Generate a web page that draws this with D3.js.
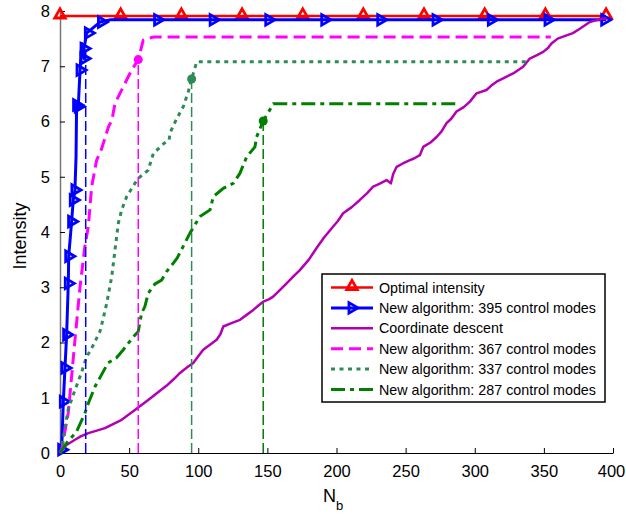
<!DOCTYPE html>
<html>
<head>
<meta charset="utf-8">
<script src="https://cdn.jsdelivr.net/npm/d3@7"></script>
<style>
  body { margin: 0; background: #fff; }
  svg text { font-family: "Liberation Sans", Arial, sans-serif; fill: #000; }
</style>
</head>
<body>
<svg id="chart" width="626" height="517"></svg>
<script>

// ---- data ----
const xDomain = [0, 400];
const yDomain = [0, 8];
const xTicks = [0, 50, 100, 150, 200, 250, 300, 350, 400];
const yTicks = [0, 1, 2, 3, 4, 5, 6, 7, 8];

// optimal intensity (flat), markers every ~44
const optimalN = [0, 395];
const optimalI = [7.91, 7.91];
const optimalMarkN = [0, 43.9, 87.8, 131.7, 175.6, 219.4, 263.3, 307.2, 351.1, 395];

// new algorithm, 395 modes
const blueCurve = [[0,0],[1.2,0.06],[2.4,0.93],[3.6,1.54],[4.8,2.14],[6,3.07],[6.3,3.56],[8.4,4.19],
  [9.6,4.58],[10.8,4.76],[11.6,5.36],[12,6.3],[13.2,6.27],[14.5,6.93],[15.7,7.41],[17.4,7.14],
  [17.4,7.32],[19.3,7.6],[28.9,7.8],[36,7.84],[395,7.84]];
const blueMarks = [[1.2,0.06],[2.4,0.93],[3.6,1.54],[4.8,2.14],[6,3.07],[6.3,3.56],[8.4,4.19],
  [9.6,4.58],[10.8,4.76],[12,6.3],[13.2,6.27],[14.5,6.93],[17.4,7.14],[17.4,7.32],[20.5,7.6],
  [30,7.8],[70.6,7.84],[110.8,7.84],[151,7.84],[191.5,7.84],[232,7.84],[272,7.84],[312,7.84],
  [353,7.84],[394,7.84]];

// coordinate descent
const cdCurve = [[0,0],[1.2,0.06],[5,0.15],[10.8,0.24],[15,0.3],[20.5,0.36],[26,0.4],[32.5,0.45],
  [38,0.52],[44.6,0.6],[50,0.7],[54.2,0.78],[58,0.85],[63.8,0.96],[70,1.08],[77.2,1.22],[82,1.33],
  [86.8,1.45],[92,1.55],[96.4,1.63],[100,1.75],[103.6,1.87],[108,1.95],[113.3,2.05],[116,2.15],
  [118.1,2.29],[124,2.35],[130.2,2.41],[135,2.5],[139.8,2.59],[144,2.68],[147,2.74],[151,2.78],
  [154.2,2.83],[159,2.95],[163.9,3.07],[169,3.2],[173.5,3.31],[180,3.5],[185.6,3.71],[191,3.9],
  [197.6,4.1],[201,4.2],[204.8,4.34],[211,4.45],[216.9,4.58],[222,4.7],[226.5,4.82],[231,4.87],
  [236.2,4.94],[239.3,4.88],[241,5.05],[243.5,5.18],[248,5.24],[253.1,5.3],[256,5.33],[260.3,5.39],
  [262.7,5.54],[268,5.62],[272.4,5.72],[276,5.82],[279.6,5.97],[283,6.05],[286.8,6.18],[292,6.26],
  [296.5,6.36],[301.3,6.51],[308.5,6.57],[312,6.65],[315.8,6.72],[322,6.8],[327.8,6.87],[335,6.99],
  [339.8,7.14],[345,7.2],[349.5,7.26],[353,7.33],[355.5,7.41],[360,7.5],[366.4,7.56],[371,7.6],
  [376,7.68],[383.2,7.8],[389,7.84],[395.3,7.87]];

// new algorithm, 367 modes
const magentaCurve = [[0,0],[1.2,0.06],[6,0.73],[10.8,2.04],[14.5,3.01],[18,3.74],[20.5,4.1],
  [22.9,4.82],[26.5,5.3],[30,5.5],[35,5.9],[37.6,6.03],[39.8,6.33],[45.8,6.63],[51.8,6.93],
  [56.6,7.12],[60.2,7.47],[67.5,7.53],[355,7.53]];
const magentaDot = [56.6, 7.12];

// new algorithm, 337 modes
const seaCurve = [[0,0],[1.2,0.06],[3.6,0.45],[6,0.8],[10,1.08],[15.5,1.45],[19.3,1.75],[22,1.85],
  [28.9,2.2],[31,2.41],[33.8,2.71],[37.4,3.19],[39.8,3.68],[42.2,4.16],[44.6,4.4],[48.2,4.64],
  [54.2,4.88],[56.6,4.97],[63.8,5.12],[67.5,5.42],[75,5.6],[79,5.67],[79.5,5.79],[84,6.03],
  [89.2,6.27],[92.8,6.54],[95.2,6.77],[98.9,7.08],[337.4,7.08]];
const seaDot = [95.2, 6.77];

// new algorithm, 287 modes
const greenCurve = [[0,0],[4.8,0.18],[12,0.39],[18,0.72],[20.5,0.9],[25.3,1.2],[34.7,1.63],
  [40.7,1.72],[45.8,1.87],[53,2.1],[56.6,2.2],[59,2.53],[61.4,2.65],[63.8,2.89],[68.7,3.06],
  [73.5,3.13],[77,3.28],[82.4,3.45],[84.8,3.53],[94,3.98],[101.2,4.28],[108.5,4.4],[110.9,4.64],
  [118.1,4.79],[125.3,4.88],[130.1,5.06],[135,5.36],[141,5.54],[142.2,5.72],[147,6.01],[154.3,6.32],
  [286.8,6.32]];
const greenDot = [147, 6.01];

// vertical marker for the 395-mode run: [N, top intensity]
const blueVLine = [18.6, 7.3];

const legendLabels = [
  "Optimal intensity",
  "New algorithm: 395 control modes",
  "Coordinate descent",
  "New algorithm: 367 control modes",
  "New algorithm: 337 control modes",
  "New algorithm: 287 control modes"
];

// ---- styles ----
const C = {
  red: "#ff0000", blue: "#0000ff", purple: "#b300b3",
  magenta: "#ff00ff", sea: "#2e8b57", green: "#008000"
};
const series = [
  { color: C.red, width: 2.5, dash: null, mark: "up" },
  { color: C.blue, width: 3, dash: null, mark: "right" },
  { color: C.purple, width: 2.5, dash: null, mark: null },
  { color: C.magenta, width: 3, dash: "12,6", mark: null },
  { color: C.sea, width: 3, dash: "4,4.5", mark: null },
  { color: C.green, width: 3, dash: "14,5,4,5", mark: null }
];

const svg = d3.select("#chart");
const x = d3.scaleLinear().domain(xDomain).range([60, 613]);
const y = d3.scaleLinear().domain(yDomain).range([453, 11]);
const line = d3.line().x(d => x(d[0])).y(d => y(d[1]));

// axes
const xAxis = svg.append("g")
  .attr("transform", "translate(0,453)")
  .call(d3.axisBottom(x).tickValues(xTicks).tickSizeInner(-5).tickSizeOuter(0).tickPadding(12));
xAxis.select(".domain").attr("stroke", "#000").attr("stroke-width", 1.2);
xAxis.selectAll("text").attr("font-size", 16.5).attr("font-family", "Liberation Sans, Arial, sans-serif");
xAxis.selectAll("text").filter(d => d === 400).attr("dx", -2);

const yAxis = svg.append("g")
  .attr("transform", "translate(60,0)")
  .call(d3.axisLeft(y).tickValues(yTicks).tickSizeInner(-5).tickSizeOuter(0).tickPadding(10));
yAxis.select(".domain").attr("stroke", "#777").attr("stroke-width", 1.5);
yAxis.selectAll("text").attr("font-size", 16.5).attr("font-family", "Liberation Sans, Arial, sans-serif");

svg.append("text")
  .attr("transform", "translate(26,236) rotate(-90)")
  .attr("text-anchor", "middle")
  .attr("font-size", 18)
  .text("Intensity");

const xl = svg.append("text")
  .attr("x", 323).attr("y", 502)
  .attr("font-size", 18);
xl.append("tspan").text("N");
xl.append("tspan").attr("font-size", 13).attr("dy", 8).text("b");

const plot = svg.append("g");

const tri = d3.symbol().type(d3.symbolTriangle).size(48);
const markStyle = (sel, color) => sel
  .attr("fill", "none").attr("stroke", color).attr("stroke-width", 2.8).attr("stroke-linejoin", "miter");

// optimal intensity
const optimal = optimalN.map((n, i) => [n, optimalI[i]]);
plot.append("path").attr("d", line(optimal))
  .attr("fill", "none").attr("stroke", C.red).attr("stroke-width", 2.5);
plot.selectAll(null).data(optimalMarkN).join("path")
  .attr("d", tri())
  .attr("transform", d => `translate(${x(d)},${y(optimalI[0]) - 1})`)
  .call(markStyle, C.red);

// 395 modes
plot.append("path").attr("d", line(blueCurve))
  .attr("fill", "none").attr("stroke", C.blue).attr("stroke-width", 3).attr("stroke-linejoin", "round");
plot.selectAll(null).data(blueMarks).join("path")
  .attr("d", tri())
  .attr("transform", d => `translate(${x(d[0])},${y(d[1])}) rotate(90)`)
  .call(markStyle, C.blue);

// coordinate descent
plot.append("path").attr("d", line(cdCurve))
  .attr("fill", "none").attr("stroke", C.purple).attr("stroke-width", 2.5).attr("stroke-linejoin", "round");

// truncated runs
[[magentaCurve, series[3]], [seaCurve, series[4]], [greenCurve, series[5]]].forEach(([pts, s]) => {
  plot.append("path").attr("d", line(pts))
    .attr("fill", "none").attr("stroke", s.color).attr("stroke-width", s.width)
    .attr("stroke-dasharray", s.dash);
});

// vertical dashed guides and dots
const guides = [
  { p: blueVLine, color: C.blue, dot: false },
  { p: magentaDot, color: C.magenta, dot: true },
  { p: seaDot, color: C.sea, dot: true },
  { p: greenDot, color: C.green, dot: true }
];
guides.forEach(g => {
  plot.append("line")
    .attr("x1", x(g.p[0])).attr("x2", x(g.p[0]))
    .attr("y1", y(0)).attr("y2", y(g.p[1]))
    .attr("stroke", g.color).attr("stroke-width", 1.5)
    .attr("stroke-dasharray", "10,4");
  if (g.dot) plot.append("circle")
    .attr("cx", x(g.p[0])).attr("cy", y(g.p[1])).attr("r", 4.5)
    .attr("fill", g.color);
});

// legend
const lg = svg.append("g").attr("transform", "translate(322,274)");
lg.append("rect").attr("width", 283).attr("height", 128)
  .attr("fill", "#fff").attr("stroke", "#000").attr("stroke-width", 1.5);
const rows = lg.selectAll("g.row").data(series).join("g")
  .attr("class", "row")
  .attr("transform", (d, i) => `translate(0,${13.5 + i * 20.4})`);
rows.append("line")
  .attr("x1", 9).attr("x2", 51)
  .attr("stroke", d => d.color).attr("stroke-width", d => d.width)
  .attr("stroke-dasharray", d => d.dash);
rows.filter(d => d.mark === "up").append("path")
  .attr("d", tri()).attr("transform", "translate(30,-1)")
  .call(markStyle, C.red);
rows.filter(d => d.mark === "right").append("path")
  .attr("d", tri()).attr("transform", "translate(30,0) rotate(90)")
  .call(markStyle, C.blue);
rows.append("text")
  .attr("x", 57).attr("dy", "0.35em")
  .attr("font-size", 14.3)
  .text((d, i) => legendLabels[i]);

</script>
</body>
</html>
